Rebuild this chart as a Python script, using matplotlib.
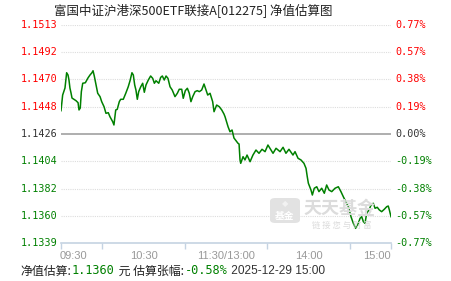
import matplotlib
matplotlib.use("Agg")
import matplotlib.pyplot as plt
import matplotlib.transforms as mtransforms
from matplotlib.patches import FancyBboxPatch

plt.rcParams['font.family'] = ['Noto Sans CJK SC', 'DejaVu Sans']

# estimated NAV by minute of the trading day (0 = 09:30, 240 = 15:00)
minutes = [0, 1.2, 2.9, 4.1, 5.1, 5.8, 6.5, 7.3, 8.0, 10.9, 12.4, 13.1, 14.0, 14.8, 15.8,
           17.7, 19.6, 21.1, 22.5, 23.3, 24.2, 25.5, 26.7, 28.4, 29.6, 31.3, 32.7, 34.4,
           35.6, 37.6, 38.5, 39.8, 40.9, 42.4, 43.4, 45.3, 47.1, 48.9, 50.2, 51.6, 52.6,
           53.6, 54.5, 55.5, 56.5, 58.0, 59.4, 60.6, 61.8, 63.5, 65.2, 66.7, 67.9, 69.1,
           71.1, 72.5, 73.7, 75.1, 76.4, 77.8, 79.3, 80.9, 82.9, 84.6, 86.0, 87.8, 88.9,
           90.4, 91.9, 93.3, 94.5, 95.8, 97.5, 99.1, 100.6, 102.3, 104.0, 105.5, 106.7,
           108.4, 110.3, 111.3, 113.2, 115.1, 116.9, 118.5, 119.3, 121.5, 122.9, 124.4,
           125.8, 128.7, 129.5, 130.2, 130.7, 132.4, 133.8, 135.3, 137.5, 139.6, 141.8,
           144.0, 146.2, 148.4, 150.5, 152.7, 154.2, 156.4, 159.3, 161.5, 163.6, 165.8,
           168.7, 170.2, 172.4, 174.5, 176.7, 178.2, 179.1, 179.9, 181.8, 182.8, 184.2,
           186.0, 187.6, 189.6, 191.5, 193.2, 194.9, 196.9, 199.3, 201.7, 203.6, 205.3,
           207.1, 209.0, 210.9, 212.6, 214.3, 215.8, 217.5, 218.7, 219.9, 221.1, 222.3,
           224.0, 225.5, 227.1, 228.4, 230.0, 231.5, 233.2, 235.1, 236.9, 238.0, 238.8, 240]
nav = [1.14446, 1.14571, 1.14627, 1.14749, 1.14731, 1.14691, 1.14627, 1.14587, 1.14547,
       1.14526, 1.14510, 1.14452, 1.14467, 1.14598, 1.14665, 1.14669, 1.14707, 1.14731,
       1.14749, 1.14765, 1.14723, 1.14651, 1.14585, 1.14558, 1.14518, 1.14478, 1.14425,
       1.14430, 1.14398, 1.14358, 1.14332, 1.14452, 1.14457, 1.14518, 1.14537, 1.14537,
       1.14585, 1.14637, 1.14685, 1.14749, 1.14731, 1.14651, 1.14611, 1.14537, 1.14598,
       1.14637, 1.14665, 1.14593, 1.14651, 1.14691, 1.14723, 1.14704, 1.14665, 1.14685,
       1.14665, 1.14712, 1.14723, 1.14691, 1.14723, 1.14704, 1.14637, 1.14611, 1.14558,
       1.14585, 1.14617, 1.14617, 1.14545, 1.14606, 1.14625, 1.14585, 1.14518, 1.14558,
       1.14598, 1.14606, 1.14598, 1.14611, 1.14659, 1.14611, 1.14571, 1.14585, 1.14518,
       1.14438, 1.14491, 1.14478, 1.14452, 1.14420, 1.14398, 1.14318, 1.14278, 1.14292,
       1.14228, 1.14186, 1.14180, 1.14053, 1.14026, 1.14079, 1.14053, 1.14092, 1.14039,
       1.14092, 1.14132, 1.14106, 1.14138, 1.14119, 1.14172, 1.14132, 1.14106, 1.14146,
       1.14119, 1.14154, 1.14106, 1.14138, 1.14092, 1.14119, 1.14066, 1.14053, 1.14026,
       1.13986, 1.13919, 1.13867, 1.13813, 1.13773, 1.13827, 1.13839, 1.13800, 1.13827,
       1.13787, 1.13853, 1.13813, 1.13800, 1.13827, 1.13839, 1.13800, 1.13760, 1.13720,
       1.13680, 1.13600, 1.13547, 1.13507, 1.13534, 1.13587, 1.13600, 1.13560, 1.13547,
       1.13627, 1.13654, 1.13693, 1.13707, 1.13667, 1.13675, 1.13654, 1.13640, 1.13659,
       1.13680, 1.13685, 1.13654, 1.13600]

base_nav = 1.1426
nav_step = 0.002175
left_labels = ['1.1513', '1.1492', '1.1470', '1.1448', '1.1426', '1.1404', '1.1382', '1.1360', '1.1339']
right_labels = ['0.77%', '0.57%', '0.38%', '0.19%', '0.00%', '-0.19%', '-0.38%', '-0.57%', '-0.77%']
time_ticks = [0, 30, 90, 150, 210, 240]
time_label_pos = [0, 60, 120, 180, 240]
time_labels = ['09:30', '10:30', '11:30/13:00', '14:00', '15:00']

title = '富国中证沪港深500ETF联接A[012275] 净值估算图'
est_nav = '1.1360'
est_chg = '-0.58%'
stamp = '2025-12-29 15:00'

red = '#ff0000'
green = '#008000'
dark = '#333333'

fig = plt.figure(figsize=(4.51, 2.81), dpi=100)
ax = fig.add_axes([61 / 451, 38 / 281, 330 / 451, 218 / 281])
ax.set_xlim(0, 240)
ax.set_ylim(base_nav - 4 * nav_step, base_nav + 4 * nav_step)

for s in ['top', 'left', 'right']:
    ax.spines[s].set_visible(False)
ax.spines['bottom'].set_color('#c5d3e2')
ax.spines['bottom'].set_linewidth(1.2)
ax.set_yticks([])
ax.set_xticks(time_ticks)
ax.set_xticklabels([])
ax.tick_params(axis='x', length=4, width=1, color='#c5d3e2', direction='out')

# grid lines and side labels
left_tr = mtransforms.blended_transform_factory(fig.transFigure, ax.transData)
mono = 'DejaVu Sans Mono'
for i in range(9):
    y = base_nav + (4 - i) * nav_step
    if i == 4:
        ax.axhline(y, color='#999999', lw=1.1, zorder=1)
        col = dark
    else:
        if i < 8:
            ax.axhline(y, color='#dddddd', lw=0.8, ls=(0, (1, 1)), zorder=1)
        col = red if i < 4 else green
    ax.text(58 / 451, y, left_labels[i], transform=left_tr, ha='right', va='center',
            color=col, fontsize=7.3, family=mono)
    ax.text(395 / 451, y, right_labels[i], transform=left_tr, ha='left', va='center',
            color=col, fontsize=7.3, family=mono)

# time labels
bot_tr = mtransforms.blended_transform_factory(ax.transData, fig.transFigure)
for p, lab in zip(time_label_pos, time_labels):
    ha = 'left' if p == 0 else ('right' if p == 240 else 'center')
    if p == 0:
        p = -1
    ax.text(p, 1 - 256 / 281, lab, transform=bot_tr, ha=ha, va='center',
            color='#999999', fontsize=8, family='Liberation Sans')

# watermark
box = FancyBboxPatch((270 / 451, 1 - 223 / 281), 30 / 451, 25 / 281,
                     boxstyle='round,pad=0,rounding_size=0.012', transform=fig.transFigure,
                     facecolor='#e2e2e2', edgecolor='none', zorder=0)
fig.patches.append(box)
fig.text(285 / 451, 1 - 204 / 281, '◆', ha='center', va='center', color='#f2f2f2',
         fontsize=6, family='DejaVu Sans', zorder=1)
fig.text(285 / 451, 1 - 216 / 281, '基金', ha='center', va='center', color='white',
         fontsize=7, weight='bold', zorder=1)
fig.text(340 / 451, 1 - 208 / 281, '天天基金', ha='center', va='center', color='#dcdcdc',
         fontsize=13, weight='bold', zorder=0)
fig.text(342 / 451, 1 - 225 / 281, '链 接 您 与 财 富', ha='center', va='center',
         color='#dcdcdc', fontsize=6, zorder=0)

ax.set_facecolor('none')
ax.plot(minutes, nav, color=green, lw=1.1, zorder=3)

fig.text(193 / 451, 1 - 11 / 281, title, ha='center', va='center', color='#222222', fontsize=9)

# bottom summary line, pieces chained left to right
pieces = [('净值估算:', '#222222', None), (est_nav, green, mono), (' 元 估算张幅:', '#222222', None),
          (est_chg, green, mono), (' ' + stamp, '#333333', 'Liberation Sans')]
fig.canvas.draw()
renderer = fig.canvas.get_renderer()
x = 20
for txt, col, fam in pieces:
    kw = {'family': fam} if fam else {}
    t = fig.text(x / 451, 1 - 271 / 281, txt, ha='left', va='center', color=col, fontsize=8.6, **kw)
    x = t.get_window_extent(renderer).x1 + 1

fig.savefig('out.png', dpi=100)
